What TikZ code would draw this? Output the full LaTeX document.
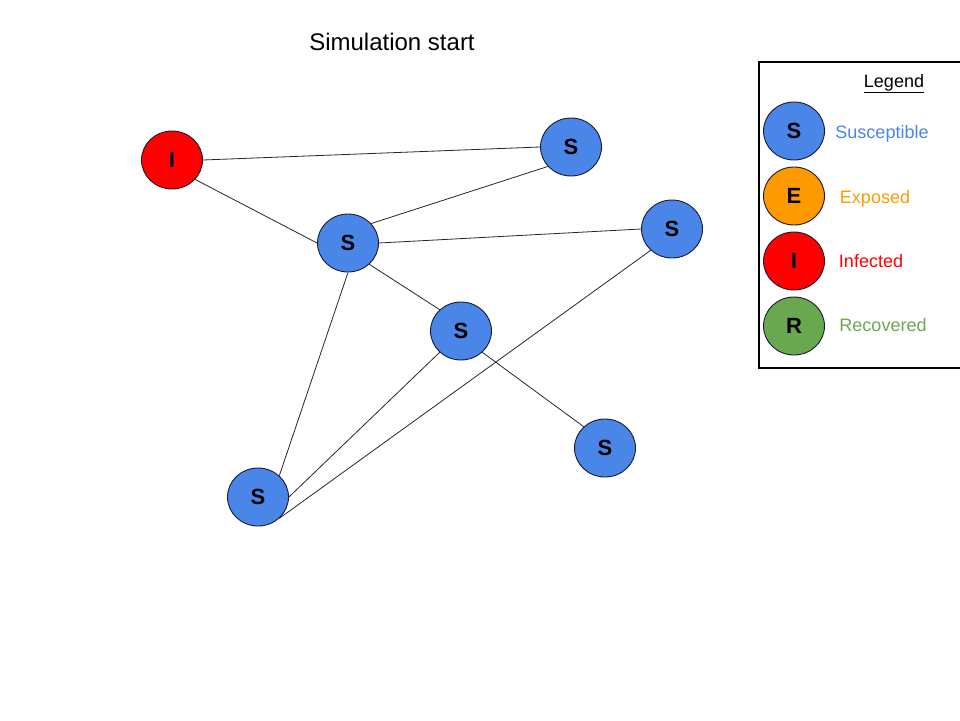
\documentclass[tikz,border=0pt]{standalone}
\usepackage{fontspec}
\setmainfont{Liberation Sans}
\usetikzlibrary{shapes.geometric}
\definecolor{sblue}{HTML}{4A86E8}
\definecolor{eorange}{HTML}{FF9900}
\definecolor{ired}{HTML}{FF0000}
\definecolor{rgreen}{HTML}{6AA84F}
\definecolor{edgeblk}{HTML}{1A1A2E}
\tikzset{
  agent/.style={ellipse, draw=edgeblk, line width=0.9pt, minimum width=61pt, minimum height=58pt, inner sep=0pt,
    font=\fontsize{22}{22}\selectfont\bfseries, text=black},
  sus/.style={agent, fill=sblue},
  exp/.style={agent, fill=eorange},
  inf/.style={agent, fill=ired},
  rec/.style={agent, fill=rgreen},
  link/.style={draw=black!85, line width=0.8pt},
  legtext/.style={font=\fontsize{18}{18}\selectfont, inner sep=0pt, anchor=base}
}
\begin{document}
\begin{tikzpicture}[x=1pt,y=-1pt]
\useasboundingbox (0,0) rectangle (960,720);
\node[font=\fontsize{24}{24}\selectfont, inner sep=0pt] (title) at (392,42) {Simulation start};

\node[inf] (I) at (172,160) {I};
\node[sus] (S1) at (571,147) {S};
\node[sus] (S2) at (348,243) {S};
\node[sus] (S3) at (672,229) {S};
\node[sus] (S4) at (461,331) {S};
\node[sus] (S5) at (605,448) {S};
\node[sus] (S6) at (258,497) {S};

\draw[link] (I.east) -- (S1.west);
\draw[link] (I.-40) -- (S2.west);
\draw[link] (S2.40) -- (S1.-140);
\draw[link] (S2.east) -- (S3.west);
\draw[link] (S2.-45) -- (S4.135);
\draw[link] (S2.south) -- (S6.45);
\draw[link] (S4.-45) -- (S5.135);
\draw[link] (S4.-135) -- (S6.east);
\draw[link] (S3.-135) -- (S6.-45);

% legend
\draw[line width=2.5pt] (759,62) rectangle (964,368);
\node[legtext] (legtitle) at (894,87.5) {\underline{Legend}};
\node[sus] (LS) at (794,131) {S};
\node[exp] (LE) at (794,196) {E};
\node[inf] (LI) at (794,261) {I};
\node[rec] (LR) at (794,326) {R};
\node[legtext, text=sblue] (LSt) at (882,138.5) {Susceptible};
\node[legtext, text=eorange] (LEt) at (875,203.5) {Exposed};
\node[legtext, text=ired] (LIt) at (871,267.5) {Infected};
\node[legtext, text=rgreen] (LRt) at (883,331.5) {Recovered};
\end{tikzpicture}
\end{document}
